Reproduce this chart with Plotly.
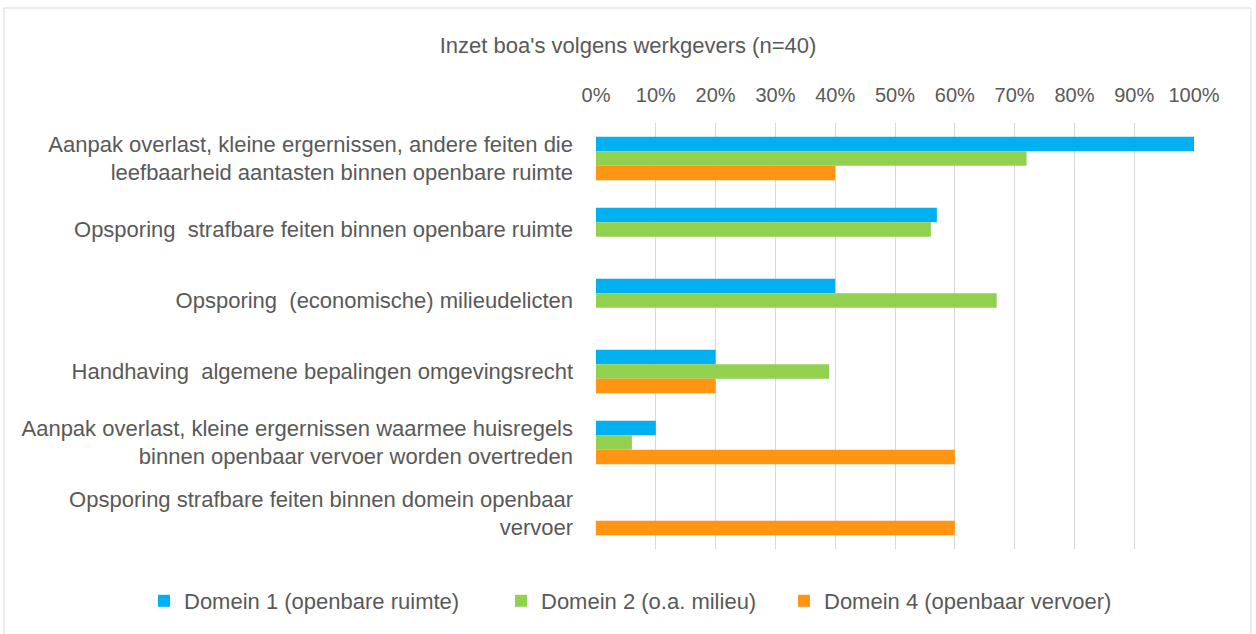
import plotly.graph_objects as go

categories = [
    "Aanpak overlast, kleine ergernissen, andere feiten die<br>leefbaarheid aantasten binnen openbare ruimte",
    "Opsporing  strafbare feiten binnen openbare ruimte",
    "Opsporing  (economische) milieudelicten",
    "Handhaving  algemene bepalingen omgevingsrecht",
    "Aanpak overlast, kleine ergernissen waarmee huisregels<br>binnen openbaar vervoer worden overtreden",
    "Opsporing strafbare feiten binnen domein openbaar<br>vervoer",
]
domein1 = [1.00, 0.57, 0.40, 0.20, 0.10, None]
domein2 = [0.72, 0.56, 0.67, 0.39, 0.06, None]
domein4 = [0.40, None, None, 0.20, 0.60, 0.60]
series_names = ["Domein 1 (openbare ruimte)", "Domein 2 (o.a. milieu)", "Domein 4 (openbaar vervoer)"]
colors = ["#00B0F0", "#92D050", "#FF9512"]
tick_vals = [i / 10 for i in range(11)]
tick_text = [f"{i*10}%" for i in range(11)]

FONT = "Liberation Sans, Arial, sans-serif"
FS = 22
FST = 20
PL, PR, PT, PB = 596, 1194, 123, 549
PW, PH = PR - PL, PB - PT

legend_ids = ["legend", "legend2", "legend3"]
legend_left_px = [144, 501, 784]

fig = go.Figure()
for name, vals, col, lg in zip(series_names, [domein1, domein2, domein4], colors, legend_ids):
    fig.add_trace(go.Bar(
        y=categories, x=vals, name=name, orientation="h", legend=lg, showlegend=True,
        marker=dict(color=col, line=dict(width=0)),
    ))

legend_layout = {}
for lg, px in zip(legend_ids, legend_left_px):
    legend_layout[lg] = dict(orientation="h", x=(px - PL) / PW, xref="paper", xanchor="left",
                             y=(PB - 601) / PH, yref="paper", yanchor="middle",
                             font=dict(family=FONT, size=FS, color="#595959"),
                             itemwidth=30, bgcolor="rgba(0,0,0,0)", visible=True)

fig.update_layout(
    showlegend=True,
    barmode="group",
    bargap=0.39,
    bargroupgap=0,
    width=1256, height=634,
    paper_bgcolor="white", plot_bgcolor="white",
    margin=dict(l=PL, r=1256 - PR, t=PT, b=634 - PB, autoexpand=False),
    font=dict(family=FONT, size=FS, color="#595959"),
    title=dict(text="Inzet boa's volgens werkgevers (n=40)", x=0.5, xref="container",
               xanchor="center", y=1 - 45 / 634, yanchor="middle",
               font=dict(family=FONT, size=FS, color="#595959")),
    xaxis=dict(side="top", range=[0, 1], tickvals=tick_vals, ticktext=tick_text,
               showgrid=True, gridcolor="#D9D9D9", gridwidth=1, zeroline=False,
               showline=False, ticks="", ticklabelstandoff=16,
               tickfont=dict(family=FONT, size=FST, color="#595959")),
    yaxis=dict(autorange="reversed", showgrid=False, zeroline=False, showline=False,
               ticks="", ticklabelstandoff=22,
               tickfont=dict(family=FONT, size=FS, color="#595959")),
    shapes=[dict(type="rect", xref="paper", yref="paper",
                 x0=(4 - PL) / PW, x1=(1251 - PL) / PW,
                 y0=(PB - 640) / PH, y1=(PB - 8) / PH,
                 line=dict(color="#D9D9D9", width=1), fillcolor="rgba(0,0,0,0)", layer="below")],
    **legend_layout,
)
fig.write_html("out.html", config={"displayModeBar": False},
               post_script="document.body.style.margin='0';")
